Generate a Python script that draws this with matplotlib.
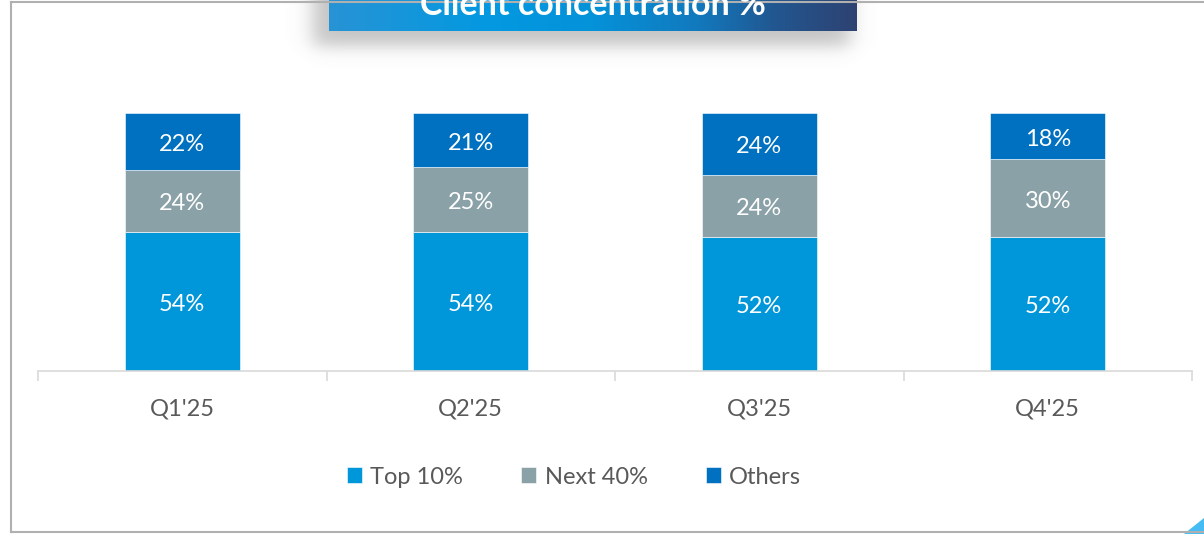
import numpy as np
import matplotlib
matplotlib.use('Agg')
import matplotlib.pyplot as plt
from matplotlib.patches import Polygon
from matplotlib.lines import Line2D
from matplotlib.colors import LinearSegmentedColormap

# ---- data ----
categories = ["Q1'25", "Q2'25", "Q3'25", "Q4'25"]
top10 = [54, 54, 52, 52]
next40 = [24, 25, 24, 30]
others = [22, 21, 24, 18]
series_names = ['Top 10%', 'Next 40%', 'Others']
colors = ['#0096DA', '#8AA1A7', '#0070C0']
title = 'Client concentration %'

W, H = 1204, 534
DPI = 100
plt.rcParams['font.family'] = ['Lato', 'DejaVu Sans']
fig = plt.figure(figsize=(W / DPI, H / DPI), dpi=DPI)
fig.patch.set_facecolor('white')


def fx(px):
    return px / W


def fy(py):
    return 1 - py / H


# ---- main axes ----
ax = fig.add_axes([fx(38), fy(371), fx(1192) - fx(38), fy(113) - fy(371)])
x = np.arange(len(categories))
bottom = np.zeros(len(categories))
for vals, name, col in zip([top10, next40, others], series_names, colors):
    bars = ax.bar(x, vals, width=0.4, bottom=bottom, color=col,
                  edgecolor='white', linewidth=0.4, label=name)
    txts = ax.bar_label(bars, labels=[f'{v}%' for v in vals], label_type='center',
                        color='white', fontsize=17)
    for tx in txts:
        tx.xyann = (0, -3 * 72 / DPI)
    bottom += np.array(vals)

ax.set_xlim(-0.5, len(categories) - 0.5)
ax.set_ylim(0, 100)
for s in ['top', 'left', 'right']:
    ax.spines[s].set_visible(False)
ax.spines['bottom'].set_color('#D9D9D9')
ax.spines['bottom'].set_linewidth(1.2)
ax.set_yticks([])
ax.set_xticks(x, categories)
ax.set_xticks(np.arange(-0.5, len(categories), 1.0), minor=True)
ax.tick_params(axis='x', which='major', length=0, pad=20, labelsize=17,
               labelcolor='#595959')
ax.tick_params(axis='x', which='minor', length=7, width=1.2, color='#D9D9D9')
ax.patch.set_alpha(0)

# ---- legend ----
handles, labels = ax.get_legend_handles_labels()
fig.legend(handles, labels, loc='center', bbox_to_anchor=(fx(574), fy(477)),
           ncol=3, frameon=False, fontsize=17, handlelength=0.65,
           handleheight=0.65, handletextpad=0.35, columnspacing=2.45,
           labelcolor='#595959')

# ---- outer frame ----
fcol = '#B0B0B0'
flw = 1.5
fig.add_artist(Line2D([fx(10.5), fx(10.5)], [fy(1.5), fy(531.5)], color=fcol, lw=flw,
                      transform=fig.transFigure))
fig.add_artist(Line2D([fx(10.5), 1.0], [fy(1.5), fy(1.5)], color=fcol, lw=flw,
                      transform=fig.transFigure))
fig.add_artist(Line2D([fx(10.5), 1.0], [fy(531.5), fy(531.5)], color=fcol, lw=flw,
                      transform=fig.transFigure))

# ---- title shadow ----
sx0, sx1, sy0, sy1 = 280, 900, 0, 75
sax = fig.add_axes([fx(sx0), fy(sy1), fx(sx1) - fx(sx0), fy(sy0) - fy(sy1)])
sax.set_axis_off()
X, Y = np.meshgrid(np.arange(sx0, sx1) + 0.5, np.arange(sy0, sy1) + 0.5)


def sig(z):
    return 1.0 / (1.0 + np.exp(-z))


alpha = 0.42 * sig((X - 313) / 6) * sig((850 - X) / 6) * sig((46 - Y) / 5)
rgba = np.zeros(X.shape + (4,))
rgba[..., :3] = 0.45
rgba[..., 3] = alpha
sax.imshow(rgba, aspect='auto', extent=(0, 1, 0, 1), origin='upper')
sax.set_xlim(0, 1)
sax.set_ylim(0, 1)

# ---- title box with gradient ----
tax = fig.add_axes([fx(329), fy(31.5), fx(857) - fx(329), fy(-5) - fy(31.5)])
tax.set_axis_off()
cmap = LinearSegmentedColormap.from_list('tb', [
    (0.0, '#2793D5'), (0.3, '#0399E1'), (0.5, '#0592D9'),
    (0.7, '#1279BD'), (0.85, '#22568F'), (1.0, '#2E4272')])
grad = np.linspace(0, 1, 512)[None, :]
tax.imshow(grad, cmap=cmap, aspect='auto', extent=(0, 1, 0, 1))
tax.set_xlim(0, 1)
tax.set_ylim(0, 1)

t = fig.text(fx(593), fy(15), title, ha='center', va='baseline', color='white',
             fontweight='bold', fontsize=20)
fig.canvas.draw()
w = t.get_window_extent().width
t.set_fontsize(20 * 346 / w)

# ---- corner triangle ----
fig.add_artist(Polygon([(fx(1184), fy(534)), (fx(1204), fy(534)), (fx(1204), fy(518))],
                       closed=True, facecolor='#45BDF4', edgecolor='none',
                       transform=fig.transFigure))

fig.savefig('out.png', dpi=DPI)
